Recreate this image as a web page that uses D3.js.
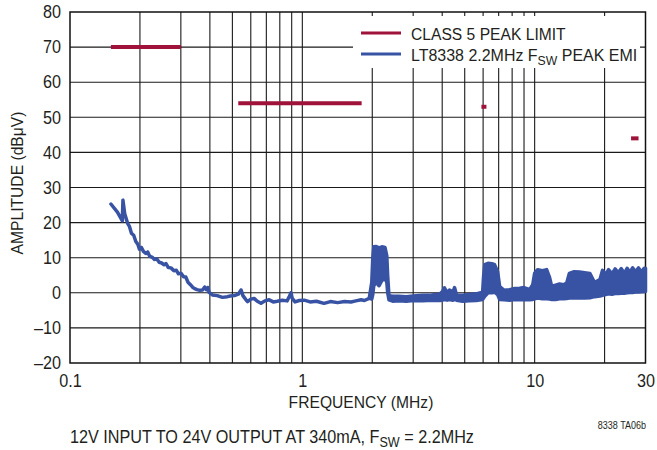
<!DOCTYPE html>
<html>
<head>
<meta charset="utf-8">
<script src="https://cdn.jsdelivr.net/npm/d3@7"></script>
<style>
  body { margin: 0; background: #fff; }
  text { font-family: "Liberation Sans", Arial, sans-serif; fill: #231f20; }
</style>
</head>
<body>
<svg id="chart" width="657" height="450"></svg>
<script>
// limit lines (CISPR 25 class 5 peak), MHz / dBuV
var limitStart = [0.15, 0.53, 5.9, 26];
var limitEnd = [0.3, 1.8, 6.2, 28];
var limitLevel = [70, 54, 53, 44];

// measured peak EMI: frequency, lower and upper edge of the trace
var emiFreq = [0.150, 0.160, 0.168, 0.169, 0.172, 0.177, 0.180, 0.184, 0.188, 0.192,
  0.196, 0.199, 0.203, 0.207, 0.212, 0.216, 0.220, 0.226, 0.231, 0.236,
  0.242, 0.248, 0.254, 0.259, 0.265, 0.272, 0.280, 0.287, 0.293, 0.300,
  0.308, 0.315, 0.322, 0.330, 0.337, 0.344, 0.352, 0.362, 0.372, 0.380,
  0.386, 0.392, 0.397,
  0.410, 0.430, 0.453, 0.476, 0.490, 0.510, 0.530, 0.545, 0.555,
  0.572, 0.581, 0.600, 0.620, 0.640, 0.664, 0.690, 0.720, 0.750, 0.780,
  0.820, 0.860, 0.880, 0.894, 0.905, 0.930, 0.970, 1.02, 1.08, 1.15,
  1.24, 1.32, 1.42, 1.52, 1.62, 1.70, 1.79, 1.85, 1.94, 1.99,
  2.01, 2.03, 2.08, 2.14, 2.20, 2.27, 2.31, 2.33, 2.36, 2.45,
  2.6, 2.8, 3.0, 3.3, 3.6, 3.9, 4.01, 4.09, 4.2, 4.3,
  4.45, 4.52, 4.61, 4.9, 5.25, 5.6, 5.97, 6.03, 6.10, 6.30,
  6.55, 6.72, 6.93, 7.07, 7.4, 7.8, 8.2, 8.62, 9.0, 9.52,
  9.81, 10.0, 10.3, 10.8, 11.26, 11.6, 11.84, 12.3, 12.8, 13.3,
  13.74, 14.1, 14.8, 15.6, 16.4, 17.3, 18.1, 19.1, 19.6, 20.2,
  20.8, 21.5, 22.2, 22.9, 23.6, 24.3, 25.0, 25.7, 26.4, 27.2,
  28.0, 28.8, 29.6, 30];
var emiLow = [25.3, 23.0, 20.5, 26.4, 22.5, 19.8, 19.0, 16.9, 16.4, 14.6,
  13.8, 12.4, 12.9, 11.8, 11.2, 11.6, 10.5, 10.1, 9.5, 9.7,
  8.7, 8.5, 8.0, 8.3, 7.2, 7.1, 6.3, 6.4, 5.4, 5.6,
  4.6, 4.5, 3.0, 2.3, 1.6, 1.2, 0.9, 0.7, 0.8, 1.6,
  0.9, 1.5, 0.1,
  -0.6, -0.8, -1.3, -1.1, -0.9, -0.8, -0.4, 0.8, -0.8,
  -2.0, -2.5, -1.8, -1.6, -2.4, -3.0, -2.3, -2.0, -2.6, -2.4,
  -2.1, -2.3, -1.0, 0.0, -1.6, -2.6, -2.2, -2.1, -2.6, -2.4,
  -3.0, -2.5, -2.8, -2.5, -2.6, -2.3, -2.0, -2.2, -1.6, -1.8,
  -0.5, 2.0, 3.0, 2.0, 3.5, 4.0, 3.0, 0.0, -2.0, -2.4,
  -2.3, -2.4, -2.2, -2.3, -2.1, -2.2, -2.1, -1.9, -2.1, -1.9,
  -2.1, -1.9, -2.1, -2.4, -2.3, -2.2, -1.9, -1.5, -1.0, 0.0,
  0.0, 0.2, -0.5, -1.9, -2.0, -2.1, -1.9, -2.0, -1.9, -2.0,
  -1.9, -1.7, -1.5, -1.7, -1.7, -1.8, -1.9, -1.9, -1.7, -1.7,
  -1.6, -1.5, -1.4, -1.5, -1.5, -1.4, -1.1, -0.9, -0.7, -0.5,
  -0.3, -0.4, -0.2, -0.2, -0.1, -0.1, 0.0, 0.1, 0.1, 0.2,
  0.2, 0.3, 0.4, 0.4];
var emiHigh = [25.3, 23.0, 20.5, 26.4, 22.5, 19.8, 19.0, 16.9, 16.4, 14.6,
  13.8, 12.4, 12.9, 11.8, 11.2, 11.6, 10.5, 10.1, 9.5, 9.7,
  8.7, 8.5, 8.0, 8.3, 7.2, 7.1, 6.3, 6.4, 5.4, 5.6,
  4.6, 4.5, 3.0, 2.3, 1.6, 1.2, 0.9, 0.7, 0.8, 1.6,
  0.9, 1.5, 0.1,
  -0.6, -0.8, -1.3, -1.1, -0.9, -0.8, -0.4, 0.8, -0.8,
  -2.0, -2.5, -1.8, -1.6, -2.4, -3.0, -2.3, -2.0, -2.6, -2.4,
  -2.1, -2.3, -1.0, 0.0, -1.6, -2.6, -2.2, -2.1, -2.6, -2.4,
  -3.0, -2.5, -2.8, -2.5, -2.6, -2.3, -2.0, -2.2, -1.6, 3.0,
  10.0, 13.1, 13.2, 12.8, 13.1, 12.9, 10.5, 5.0, -0.8, -1.0,
  -1.0, -1.1, -0.9, -0.7, -0.6, -0.4, 0.4, 1.4, 0.0, 0.8,
  0.2, 1.5, -0.6, -0.7, -0.5, -0.3, 0.2, 4.8, 8.0, 8.4,
  8.3, 8.0, 6.0, 1.8, 0.7, 0.9, 1.2, 1.3, 1.5, 0.9,
  2.3, 5.6, 6.6, 6.3, 6.6, 4.3, 1.8, 2.2, 2.5, 2.3,
  2.8, 5.5, 6.0, 5.9, 5.7, 5.5, 2.9, 3.8, 6.4, 5.2,
  6.6, 5.4, 6.8, 5.7, 6.9, 5.5, 7.0, 5.8, 7.1, 6.0,
  7.1, 5.9, 7.0, 7.0];

var yTicks = [-20, -10, 0, 10, 20, 30, 40, 50, 60, 70, 80];
var xTicks = [0.1, 1, 10, 30];
var xGrid = [0.2, 0.3, 0.4, 0.5, 0.6, 0.7, 0.8, 0.9, 1, 2, 3, 4, 5, 6, 7, 8, 9, 10, 20];

var svg = d3.select("#chart"),
    plotLeft = 70, plotRight = 645.5, plotTop = 12, plotBottom = 363,
    squeeze = 0.9;

var x = d3.scaleLog().domain([0.1, 30]).range([plotLeft, plotRight]);
var y = d3.scaleLinear().domain([-20, 80]).range([plotBottom, plotTop]);

var red = "#9f1239", blue = "#3953a4";

// grid
svg.append("g")
    .selectAll("line")
    .data(xGrid)
    .enter().append("line")
    .attr("x1", function(d) { return x(d); })
    .attr("x2", function(d) { return x(d); })
    .attr("y1", plotTop)
    .attr("y2", plotBottom)
    .attr("stroke", "#1a1a1a")
    .attr("stroke-width", 1.1);

svg.append("g")
    .selectAll("line")
    .data(yTicks.slice(1, -1))
    .enter().append("line")
    .attr("x1", plotLeft)
    .attr("x2", plotRight)
    .attr("y1", function(d) { return y(d); })
    .attr("y2", function(d) { return y(d); })
    .attr("stroke", "#1a1a1a")
    .attr("stroke-width", 1.1);

// legend background
svg.append("rect")
    .attr("x", 353).attr("y", 16)
    .attr("width", 287).attr("height", 52)
    .attr("fill", "#fff");

// frame
svg.append("rect")
    .attr("x", plotLeft).attr("y", plotTop)
    .attr("width", plotRight - plotLeft).attr("height", plotBottom - plotTop)
    .attr("fill", "none")
    .attr("stroke", "#111")
    .attr("stroke-width", 1.5);

// tick labels
var yAxis = d3.axisLeft(y).tickValues(yTicks).tickSize(0).tickPadding(10)
    .tickFormat(function(d) { return d < 0 ? "\u2013" + Math.abs(d) : d; });
var gy = svg.append("g").attr("transform", "translate(" + plotLeft + ",0)").call(yAxis);
gy.select(".domain").remove();
gy.selectAll("text")
    .attr("font-size", 18).attr("font-family", null).attr("fill", "#231f20")
    .attr("transform", "scale(" + squeeze + ",1)");

var xAxis = d3.axisBottom(x).tickValues(xTicks).tickSize(0).tickPadding(11)
    .tickFormat(function(d) { return d; });
var gx = svg.append("g").attr("transform", "translate(0," + plotBottom + ")").call(xAxis);
gx.select(".domain").remove();
gx.selectAll("text")
    .attr("font-size", 18).attr("font-family", null).attr("fill", "#231f20")
    .attr("transform", "scale(" + squeeze + ",1)");

// limit lines
svg.append("g")
    .selectAll("line")
    .data(limitLevel)
    .enter().append("line")
    .attr("x1", function(d, i) { return x(limitStart[i]); })
    .attr("x2", function(d, i) { return x(limitEnd[i]); })
    .attr("y1", function(d) { return y(d); })
    .attr("y2", function(d) { return y(d); })
    .attr("stroke", red)
    .attr("stroke-width", 4);

// EMI trace
var emi = emiFreq.map(function(f, i) { return { f: f, lo: emiLow[i], hi: emiHigh[i] }; });

var area = d3.area()
    .x(function(d) { return x(d.f); })
    .y0(function(d) { return y(d.lo); })
    .y1(function(d) { return y(d.hi); });

svg.append("path")
    .datum(emi)
    .attr("d", area)
    .attr("fill", blue)
    .attr("stroke", blue)
    .attr("stroke-width", 3.5)
    .attr("stroke-linejoin", "round");

// legend
svg.append("line")
    .attr("x1", 361).attr("x2", 401).attr("y1", 33).attr("y2", 33)
    .attr("stroke", red).attr("stroke-width", 3);
svg.append("line")
    .attr("x1", 361).attr("x2", 401).attr("y1", 54).attr("y2", 54)
    .attr("stroke", blue).attr("stroke-width", 3);

function label(px, py, size, sx) {
    return svg.append("text")
        .attr("transform", "translate(" + px + "," + py + ") scale(" + sx + ",1)")
        .attr("font-size", size);
}

label(411, 40, 17, 0.92).text("CLASS 5 PEAK LIMIT");

var t2 = label(411, 61, 17, 0.94);
t2.append("tspan").text("LT8338 2.2MHz F");
t2.append("tspan").attr("dy", 4).attr("font-size", 13).text("SW");
t2.append("tspan").attr("dy", -4).text(" PEAK EMI");

svg.append("text")
    .attr("transform", "translate(23,183) rotate(-90) scale(0.92,1)")
    .attr("text-anchor", "middle")
    .attr("font-size", 17)
    .text("AMPLITUDE (dB\u03bcV)");

label(361, 408, 17, 0.92)
    .attr("text-anchor", "middle")
    .text("FREQUENCY (MHz)");

var cap = label(70, 443, 18, 0.9);
cap.append("tspan").text("12V INPUT TO 24V OUTPUT AT 340mA, F");
cap.append("tspan").attr("dy", 4).attr("font-size", 14).text("SW");
cap.append("tspan").attr("dy", -4).text(" = 2.2MHz");

label(646, 429, 10, 0.9)
    .attr("text-anchor", "end")
    .text("8338 TA06b");
</script>
</body>
</html>
